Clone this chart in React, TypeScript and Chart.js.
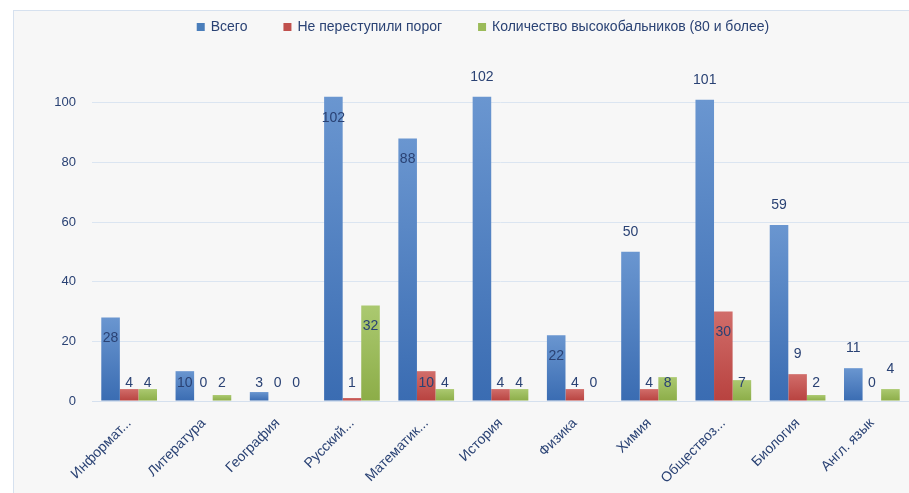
import React, { useEffect, useRef } from "react";
import { Chart, registerables } from "chart.js";

Chart.register(...registerables);

const categories = [
  "Информат...",
  "Литература",
  "География",
  "Русский...",
  "Математик...",
  "История",
  "Физика",
  "Химия",
  "Обществоз...",
  "Биология",
  "Англ. язык",
];
const seriesNames = ["Всего", "Не переступили порог", "Количество высокобальников (80 и более)"];
const totalValues = [28, 10, 3, 102, 88, 102, 22, 50, 101, 59, 11];
const failedValues = [4, 0, 0, 1, 10, 4, 4, 4, 30, 9, 0];
const highScoreValues = [4, 2, 0, 32, 4, 4, 0, 8, 7, 2, 4];
const yTickValues = [0, 20, 40, 60, 80, 100];

// style: which data labels sit above the bar (others sit inside the bar end)
const outsideLabelIdx = [[5, 7, 8, 9, 10], [9], [10]];

const FONT = "'Liberation Sans', Arial, sans-serif";
const TEXT = "#2a4274";
const colors = [
  { top: "#6a96d0", bottom: "#3a6cb2", solid: "#4a7ebb" },
  { top: "#d16d6a", bottom: "#b8423f", solid: "#c0504d" },
  { top: "#abc970", bottom: "#8cad48", solid: "#9bbb59" },
];

const barFill = (si: number) => (ctx: any) => {
  const chart = ctx.chart;
  const c = colors[si];
  if (!chart.chartArea || !chart.scales || !chart.scales.y || ctx.type !== "data") return c.solid;
  const y = chart.scales.y;
  const top = y.getPixelForValue(ctx.parsed ? ctx.parsed.y : 0);
  const base = y.getPixelForValue(0);
  if (!isFinite(top) || Math.abs(base - top) < 1) return c.solid;
  const g = chart.ctx.createLinearGradient(0, top, 0, base);
  g.addColorStop(0, c.top);
  g.addColorStop(1, c.bottom);
  return g;
};

const labelPlugin = {
  id: "valueLabels",
  afterDatasetsDraw(chart: any) {
    const ctx = chart.ctx;
    const base = chart.scales.y.getPixelForValue(0);
    ctx.save();
    ctx.font = `14px ${FONT}`;
    ctx.fillStyle = TEXT;
    ctx.textAlign = "center";
    ctx.textBaseline = "middle";
    chart.data.datasets.forEach((ds: any, di: number) => {
      const meta = chart.getDatasetMeta(di);
      meta.data.forEach((bar: any, i: number) => {
        const v = ds.data[i];
        const y = outsideLabelIdx[di].includes(i) ? bar.y - 20 : Math.min(bar.y + 21, base - 18);
        ctx.fillText(String(v), bar.x, y);
      });
    });
    ctx.restore();
  },
};

const legendPlugin = {
  id: "topLegend",
  afterDraw(chart: any) {
    const ctx = chart.ctx;
    ctx.save();
    ctx.font = `14px ${FONT}`;
    ctx.textBaseline = "middle";
    ctx.textAlign = "left";
    const box = 8;
    const gapBoxText = 6;
    const gapItems = 36;
    const widths = seriesNames.map((n) => box + gapBoxText + ctx.measureText(n).width);
    const total = widths.reduce((a, b) => a + b, 0) + gapItems * (widths.length - 1);
    let x = 483 - total / 2;
    const y = 27;
    seriesNames.forEach((n, i) => {
      ctx.fillStyle = colors[i].solid;
      ctx.fillRect(x, y - box / 2, box, box);
      ctx.fillStyle = TEXT;
      ctx.fillText(n, x + box + gapBoxText, y);
      x += widths[i] + gapItems;
    });
    ctx.restore();
  },
};

export default function App() {
  const ref = useRef<HTMLCanvasElement | null>(null);

  useEffect(() => {
    if (!ref.current) return;
    const data = [totalValues, failedValues, highScoreValues];
    const chart = new Chart(ref.current, {
      type: "bar",
      data: {
        labels: categories,
        datasets: data.map((d, si) => ({
          label: seriesNames[si],
          data: d,
          backgroundColor: barFill(si),
          borderWidth: 0,
          categoryPercentage: 0.75,
          barPercentage: 1,
        })),
      },
      options: {
        responsive: false,
        animation: false,
        layout: { padding: { top: 43, left: 0, right: 0, bottom: 0 } },
        plugins: {
          legend: { display: false },
          tooltip: { enabled: false },
        },
        scales: {
          x: {
            grid: { display: false },
            border: { display: true, color: "#d5e0ee", width: 1 },
            ticks: {
              autoSkip: false,
              maxRotation: 45,
              minRotation: 45,
              padding: 6,
              color: TEXT,
              font: { family: FONT, size: 14 },
            },
            afterFit: (s: any) => {
              s.height = 92;
            },
          },
          y: {
            min: 0,
            max: 120,
            grid: { color: "#dbe5f1", drawTicks: false, lineWidth: 1 },
            border: { display: false },
            ticks: {
              padding: 16,
              color: TEXT,
              font: { family: FONT, size: 13 },
            },
            afterBuildTicks: (s: any) => {
              s.ticks = yTickValues.map((v) => ({ value: v }));
            },
            afterFit: (s: any) => {
              s.width = 92;
            },
          },
        },
      },
      plugins: [labelPlugin, legendPlugin],
    });
    return () => chart.destroy();
  }, []);

  return (
    <div
      style={{
        position: "fixed",
        left: 0,
        top: 0,
        width: 909,
        height: 493,
        background: "#ffffff",
        overflow: "hidden",
      }}
    >
      <div
        style={{
          position: "absolute",
          left: 13,
          top: 10,
          width: 1000,
          height: 600,
          border: "1px solid #d6e1ef",
          background: "#f7f7f7",
        }}
      />
      <canvas
        ref={ref}
        width={909}
        height={493}
        style={{ position: "absolute", left: 0, top: 0, width: 909, height: 493 }}
      />
    </div>
  );
}
